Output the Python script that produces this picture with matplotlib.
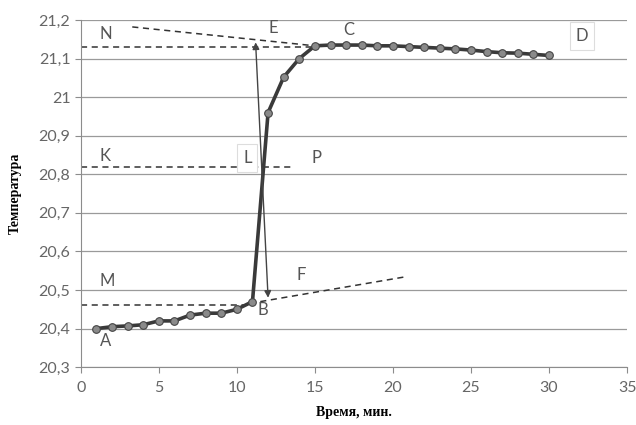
import matplotlib
matplotlib.use('Agg')
import matplotlib.pyplot as plt
import matplotlib.ticker as ticker

# temperature readings, one per minute
minutes = list(range(1, 31))
temps = [20.400, 20.405, 20.407, 20.410, 20.420, 20.420, 20.435, 20.440, 20.440, 20.450,
         20.470, 20.960, 21.052, 21.100, 21.133, 21.135, 21.135, 21.135, 21.133, 21.133,
         21.131, 21.129, 21.127, 21.125, 21.122, 21.118, 21.115, 21.114, 21.111, 21.108]

# construction lines (x pairs, y pairs)
n_line = ([0, 15], [21.13, 21.13])
k_line = ([0, 13.6], [20.82, 20.82])
m_line = ([0, 11.1], [20.461, 20.461])
cd_extrap = ([3.3, 15], [21.182, 21.133])
ab_extrap = ([11.5, 20.9], [20.47, 20.535])
arrow_bottom = (12.0, 20.48)
arrow_top = (11.2, 21.142)

labels = {'A': (1.2, 20.355), 'B': (11.3, 20.435), 'M': (1.2, 20.51), 'F': (13.8, 20.525),
          'E': (12.0, 21.165), 'N': (1.2, 21.15), 'C': (16.8, 21.16), 'D': (31.7, 21.145),
          'K': (1.2, 20.835), 'L': (10.4, 20.83), 'P': (14.8, 20.83)}

fig = plt.figure(figsize=(6.36, 4.25), dpi=100)
ax = fig.add_axes([0.127, 0.136, 0.859, 0.817])

grey = '#8c8c8c'
ax.set_xlim(0, 35)
ax.set_ylim(20.3, 21.2)
ax.yaxis.set_major_locator(ticker.MultipleLocator(0.1))
ax.xaxis.set_major_locator(ticker.MultipleLocator(5))
ax.yaxis.set_major_formatter(ticker.FuncFormatter(lambda v, _: f"{round(v, 1):g}".replace('.', ',')))
ax.grid(axis='y', color='#9a9a9a', linewidth=0.9)
ax.set_axisbelow(True)
for s in ['top', 'right']:
    ax.spines[s].set_visible(False)
for s in ['left', 'bottom']:
    ax.spines[s].set_color(grey)
ax.tick_params(colors=grey, labelcolor='#666666', labelsize=11.5, length=4)
ax.tick_params(axis='x', pad=6)
for lab in ax.get_xticklabels() + ax.get_yticklabels():
    lab.set_family('Lato')

dash = dict(color='#333333', linestyle=(0, (4, 3)), linewidth=1.1)
ax.plot(*n_line, **dash)
ax.plot(*k_line, **dash)
ax.plot(*m_line, **dash)
ax.plot(*cd_extrap, **dash)
ax.plot(*ab_extrap, **dash)

ax.plot(minutes, temps, color='#3a3a3a', linewidth=2.6, marker='o', markersize=5.5,
        markerfacecolor='#8a8a8a', markeredgecolor='#444444', markeredgewidth=0.8, zorder=3)

ax.annotate('', xy=arrow_top, xytext=arrow_bottom,
            arrowprops=dict(arrowstyle='<|-|>', color='#444444', lw=1.0,
                            mutation_scale=10, shrinkA=0, shrinkB=0), zorder=4)

for name, (x, y) in labels.items():
    box = None
    if name in ('D', 'L'):
        box = dict(boxstyle='square,pad=0.35', facecolor='white', edgecolor='#dddddd', lw=0.8)
    ax.text(x, y, name, fontsize=12, color='#555555', family='Lato', bbox=box, zorder=5)

ax.set_xlabel('Время, мин.', family='Liberation Serif', fontweight='bold', fontsize=10, labelpad=8)
ax.set_ylabel('Температура', family='Liberation Serif', fontweight='bold', fontsize=10, labelpad=12)

fig.savefig('out.png', dpi=100)
